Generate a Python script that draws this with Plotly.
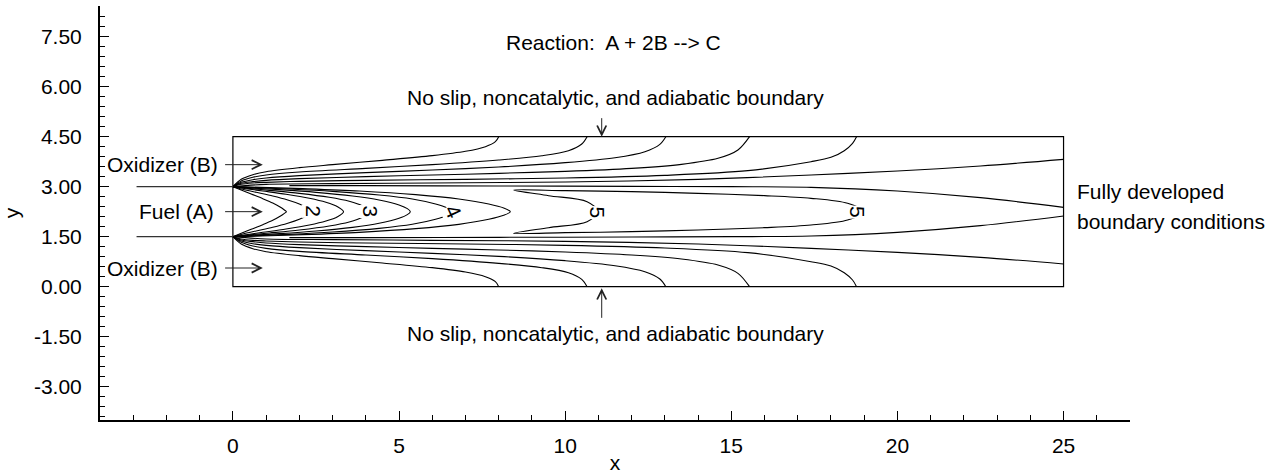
import plotly.graph_objects as go

# ---------------- axes ----------------
X_RANGE = [-4, 27]
Y_RANGE = [-4, 8.42]
X_TICKS = [0, 5, 10, 15, 20, 25]
Y_TICKS = [-3.0, -1.5, 0.0, 1.5, 3.0, 4.5, 6.0, 7.5]
Y_TICK_TEXT = ["-3.00", "-1.50", "0.00", "1.50", "3.00", "4.50", "6.00", "7.50"]

# ---------------- geometry ----------------
DOMAIN_X = [0, 25]
DOMAIN_Y = [0, 4.5]
SPLITTER_X = [-2.9, 0]
SPLITTER_Y = [3.0, 1.5]

# ---------------- outer contours (oxidizer side) ----------------
# x positions, y in the upper stream, y in the lower stream
outer1_x = [0, 0.25, 0.6, 1, 2, 3, 4.5, 6, 7, 7.6, 7.9, 8.0]
outer1_yt = [3.0, 3.22, 3.36, 3.45, 3.57, 3.66, 3.79, 3.93, 4.06, 4.2, 4.35, 4.5]
outer1_yb = [1.5, 1.28, 1.14, 1.05, 0.93, 0.84, 0.71, 0.57, 0.44, 0.3, 0.15, 0.0]

outer2_x = [0, 0.25, 0.6, 1, 2, 4, 6, 8, 9.3, 10.1, 10.5, 10.66]
outer2_yt = [3.0, 3.17, 3.28, 3.35, 3.44, 3.55, 3.66, 3.8, 3.93, 4.08, 4.28, 4.5]
outer2_yb = [1.5, 1.33, 1.22, 1.15, 1.06, 0.95, 0.84, 0.7, 0.57, 0.42, 0.22, 0.0]

outer3_x = [0, 0.25, 0.6, 1, 2, 4, 6, 8, 10, 11.5, 12.4, 12.85, 13.03]
outer3_yt = [3.0, 3.13, 3.21, 3.26, 3.33, 3.42, 3.5, 3.59, 3.72, 3.87, 4.05, 4.27, 4.5]
outer3_yb = [1.5, 1.37, 1.29, 1.24, 1.17, 1.08, 1.0, 0.91, 0.78, 0.63, 0.45, 0.23, 0.0]

outer4_x = [0, 0.25, 0.6, 1, 2, 4, 6, 8, 10, 12, 13.5, 14.6, 15.2, 15.55]
outer4_yt = [3.0, 3.1, 3.15, 3.19, 3.24, 3.3, 3.35, 3.4, 3.46, 3.55, 3.67, 3.85, 4.1, 4.5]
outer4_yb = [1.5, 1.4, 1.35, 1.31, 1.26, 1.2, 1.15, 1.1, 1.04, 0.95, 0.83, 0.65, 0.4, 0.0]

outer5_x = [0, 0.25, 0.6, 1, 2, 4, 7, 10, 13, 15.5, 17.4, 18.0, 18.4, 18.65, 18.77]
outer5_yt = [3.0, 3.07, 3.11, 3.13, 3.16, 3.19, 3.22, 3.26, 3.34, 3.48, 3.75, 3.88, 4.08, 4.3, 4.5]
outer5_yb = [1.5, 1.43, 1.39, 1.37, 1.34, 1.31, 1.28, 1.24, 1.16, 1.02, 0.75, 0.62, 0.42, 0.2, 0.0]

outer6_x = [0, 1, 3, 6, 10, 14, 17.4, 20, 22.5, 25]
outer6_yt = [3.0, 3.07, 3.09, 3.11, 3.14, 3.22, 3.35, 3.47, 3.62, 3.82]
outer6_yb = [1.5, 1.43, 1.41, 1.39, 1.36, 1.28, 1.15, 1.03, 0.88, 0.68]

outer7_x = [1.7, 4, 8, 12, 15, 17.4, 20, 22.5, 25]
outer7_yt = [3.03, 3.03, 3.02, 3.01, 3.0, 2.98, 2.87, 2.67, 2.38]
outer7_yb = [1.47, 1.47, 1.48, 1.49, 1.5, 1.52, 1.63, 1.83, 2.12]

# ---------------- inner contours (fuel side, closed ">" shapes) ----------------
inner1_x = [0, 0.25, 0.55, 0.9, 1.2, 1.42, 1.55, 1.61]
inner1_yu = [3.0, 2.9, 2.78, 2.64, 2.51, 2.39, 2.3, 2.25]
inner1_yl = [1.5, 1.6, 1.72, 1.86, 1.99, 2.11, 2.2, 2.25]

inner2_x = [0, 0.3, 0.7, 1.2, 1.65, 2.0, 2.25, 2.42]
inner2_yu = [3.0, 2.92, 2.83, 2.72, 2.6, 2.48, 2.36, 2.25]
inner2_yl = [1.5, 1.58, 1.67, 1.78, 1.9, 2.02, 2.14, 2.25]

inner3_x = [0, 0.4, 0.9, 1.6, 2.3, 2.8, 3.15, 3.33]
inner3_yu = [3.0, 2.94, 2.87, 2.77, 2.65, 2.53, 2.4, 2.25]
inner3_yl = [1.5, 1.56, 1.63, 1.73, 1.85, 1.97, 2.1, 2.25]

inner4_x = [0, 0.45, 1.1, 2.0, 2.9, 3.5, 3.9, 4.13]
inner4_yu = [3.0, 2.95, 2.89, 2.8, 2.68, 2.56, 2.42, 2.25]
inner4_yl = [1.5, 1.55, 1.61, 1.7, 1.82, 1.94, 2.08, 2.25]

inner5_x = [0, 0.55, 1.4, 2.5, 3.6, 4.4, 5.0, 5.25, 5.34]
inner5_yu = [3.0, 2.96, 2.91, 2.83, 2.72, 2.6, 2.45, 2.34, 2.25]
inner5_yl = [1.5, 1.54, 1.59, 1.67, 1.78, 1.9, 2.05, 2.16, 2.25]

inner6_x = [0, 0.7, 1.7, 3.0, 4.4, 5.4, 6.1, 6.45, 6.63]
inner6_yu = [3.0, 2.97, 2.93, 2.86, 2.75, 2.63, 2.48, 2.36, 2.25]
inner6_yl = [1.5, 1.53, 1.57, 1.64, 1.75, 1.87, 2.02, 2.14, 2.25]

inner7_x = [0, 0.85, 2.1, 3.8, 5.5, 6.8, 7.7, 8.15, 8.35]
inner7_yu = [3.0, 2.98, 2.94, 2.87, 2.76, 2.63, 2.48, 2.36, 2.25]
inner7_yl = [1.5, 1.52, 1.56, 1.63, 1.74, 1.87, 2.02, 2.14, 2.25]

# level-5 crescent (outer and inner boundary)
cres_out_x = [8.45, 10, 12, 14, 16, 17.4, 18.5, 19.0]
cres_out_yu = [2.9, 2.88, 2.85, 2.8, 2.73, 2.65, 2.5, 2.25]
cres_out_yl = [1.6, 1.62, 1.65, 1.7, 1.77, 1.85, 2.0, 2.25]
cres_in_x = [8.45, 9.5, 10.66, 11.0]
cres_in_yu = [2.9, 2.73, 2.55, 2.25]
cres_in_yl = [1.6, 1.77, 1.95, 2.25]

# contour labels
label_text = ["2", "3", "4", "5", "5"]
label_x = [2.42, 4.13, 6.63, 10.96, 18.8]
label_y = [2.25, 2.25, 2.25, 2.22, 2.25]
label_angle = [90, 90, 65, 90, 90]

FONT = "Liberation Sans, Arial, Helvetica, sans-serif"
FS = 21
LINE = dict(color="black", width=1.1, shape="spline", smoothing=0.9)

fig = go.Figure()


def add_line(xs, ys):
    fig.add_trace(go.Scatter(x=xs, y=ys, mode="lines", line=LINE,
                             hoverinfo="skip", showlegend=False))


outers = [
    (outer1_x, outer1_yt, outer1_yb),
    (outer2_x, outer2_yt, outer2_yb),
    (outer3_x, outer3_yt, outer3_yb),
    (outer4_x, outer4_yt, outer4_yb),
    (outer5_x, outer5_yt, outer5_yb),
    (outer6_x, outer6_yt, outer6_yb),
    (outer7_x, outer7_yt, outer7_yb),
]
for xs, yt, yb in outers:
    add_line(xs, yt)
    add_line(xs, yb)

inners = [
    (inner1_x, inner1_yu, inner1_yl),
    (inner2_x, inner2_yu, inner2_yl),
    (inner3_x, inner3_yu, inner3_yl),
    (inner4_x, inner4_yu, inner4_yl),
    (inner5_x, inner5_yu, inner5_yl),
    (inner6_x, inner6_yu, inner6_yl),
    (inner7_x, inner7_yu, inner7_yl),
]
for xs, yu, yl in inners:
    add_line(xs + xs[::-1][1:], yu + yl[::-1][1:])

# crescent: outer upper -> outer lower -> inner lower -> inner upper
cx = cres_out_x + cres_out_x[::-1][1:] + cres_in_x[1:] + cres_in_x[::-1][1:]
cy = cres_out_yu + cres_out_yl[::-1][1:] + cres_in_yl[1:] + cres_in_yu[::-1][1:]
add_line(cx, cy)

shapes = [
    dict(type="rect", xref="x", yref="y", x0=DOMAIN_X[0], x1=DOMAIN_X[1],
         y0=DOMAIN_Y[0], y1=DOMAIN_Y[1], line=dict(color="black", width=1.2)),
]
for sy in SPLITTER_Y:
    shapes.append(dict(type="line", xref="x", yref="y", x0=SPLITTER_X[0], x1=SPLITTER_X[1],
                       y0=sy, y1=sy, line=dict(color="#333333", width=1.3)))

annotations = []
for t, x, y, a in zip(label_text, label_x, label_y, label_angle):
    annotations.append(dict(x=x, y=y, xref="x", yref="y", text=t, showarrow=False,
                            textangle=a, bgcolor="white", borderpad=0,
                            font=dict(size=FS, color="black", family=FONT)))


def text(x, y, s, anchor="center"):
    annotations.append(dict(x=x, y=y, xref="x", yref="y", text=s, showarrow=False,
                            xanchor=anchor, yanchor="middle",
                            font=dict(size=FS, color="black", family=FONT)))


def arrow(x0, y0, x1, y1):
    annotations.append(dict(x=x1, y=y1, ax=x0, ay=y0, xref="x", yref="y",
                            axref="x", ayref="y", text="", showarrow=True,
                            arrowhead=5, arrowsize=1.8, arrowwidth=1,
                            arrowcolor="#222222", standoff=0, startstandoff=0))


text(-0.38, 3.66, "Oxidizer (B)", "right")
text(-0.5, 2.25, "Fuel (A)", "right")
text(-0.38, 0.56, "Oxidizer (B)", "right")
arrow(-0.28, 3.66, 0.9, 3.66)
arrow(-0.28, 2.25, 0.9, 2.25)
arrow(-0.28, 0.56, 0.9, 0.56)

text(11.45, 7.34, "Reaction:\u00a0 A + 2B --&gt; C")
text(11.5, 5.68, "No slip, noncatalytic, and adiabatic boundary")
arrow(11.1, 5.1, 11.1, 4.5)
text(11.5, -1.39, "No slip, noncatalytic, and adiabatic boundary")
arrow(11.1, -0.98, 11.1, -0.05)
text(25.33, 2.85, "Fully developed", "left")
text(25.33, 1.95, "boundary conditions", "left")

axis_common = dict(
    showline=True, linecolor="black", linewidth=2, ticks="inside", ticklen=9,
    tickwidth=1.2, tickcolor="black", showgrid=False, zeroline=False,
    automargin=False,
    tickfont=dict(size=FS, color="black", family=FONT),
    title_font=dict(size=FS, color="black", family=FONT),
)

fig.update_layout(
    width=1278, height=474,
    margin=dict(l=100, r=148, t=6, b=54),
    paper_bgcolor="white", plot_bgcolor="white",
    shapes=shapes, annotations=annotations,
    xaxis=dict(range=X_RANGE, tickvals=X_TICKS, title=dict(text="x", standoff=0),
               minor=dict(dtick=1, tick0=0, ticks="inside", ticklen=5, tickcolor="black", tickwidth=1),
               ticklabelstandoff=6, **axis_common),
    yaxis=dict(range=Y_RANGE, tickvals=Y_TICKS, ticktext=Y_TICK_TEXT, title=dict(text="y", standoff=11),
               minor=dict(dtick=0.3, tick0=0, ticks="inside", ticklen=5, tickcolor="black", tickwidth=1),
               ticklabelstandoff=12, **axis_common),
)

fig.write_html(
    "out.html",
    config={"displayModeBar": False},
    post_script="document.body.style.margin='0';document.body.style.overflow='hidden';",
)
